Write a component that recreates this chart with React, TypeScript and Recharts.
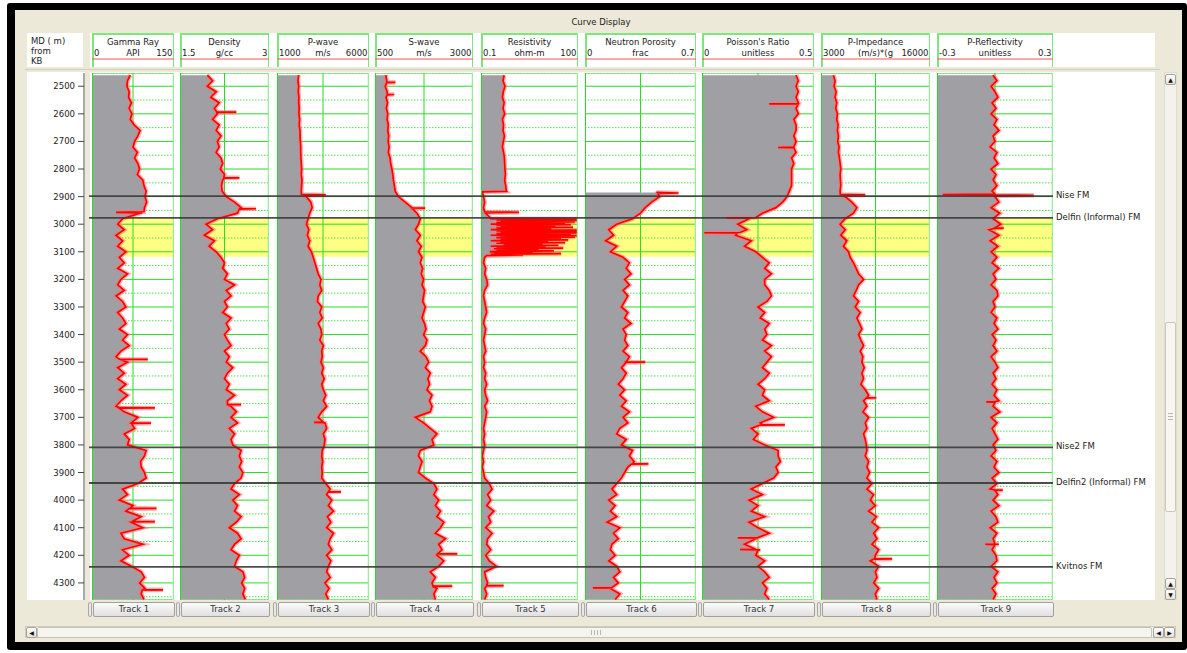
import React from 'react';
import { ComposedChart, Area, XAxis, YAxis, CartesianGrid, ReferenceLine, ReferenceArea } from 'recharts';

// ---------------- data ----------------
const depths = [
  2460, 2480, 2500, 2520, 2540, 2560, 2580, 2600, 2620, 2640,
  2660, 2680, 2700, 2720, 2740, 2760, 2780, 2800, 2820, 2840,
  2860, 2880, 2900, 2920, 2940, 2960, 2980, 3000, 3020, 3040,
  3060, 3080, 3100, 3120, 3140, 3160, 3180, 3200, 3220, 3240,
  3260, 3280, 3300, 3320, 3340, 3360, 3380, 3400, 3420, 3440,
  3460, 3480, 3500, 3520, 3540, 3560, 3580, 3600, 3620, 3640,
  3660, 3680, 3700, 3720, 3740, 3760, 3780, 3800, 3820, 3840,
  3860, 3880, 3900, 3920, 3940, 3960, 3980, 4000, 4020, 4040,
  4060, 4080, 4100, 4120, 4140, 4160, 4180, 4200, 4220, 4240,
  4260, 4280, 4300, 4320, 4340, 4360,
];

const majorDepthTicks = [2500, 2600, 2700, 2800, 2900, 3000, 3100, 3200, 3300, 3400, 3500, 3600, 3700, 3800, 3900, 4000, 4100, 4200, 4300];
const halfDepthTicks = [2550, 2650, 2750, 2850, 2950, 3050, 3150, 3250, 3350, 3450, 3550, 3650, 3750, 3850, 3950, 4050, 4150, 4250, 4350];
const tenMetreTicks = Array.from({ length: 191 }, (_, i) => 2460 + i * 10).filter((d) => d % 100 !== 0);

const gammaRay = [
  70, 65, 64, 68, 67, 72, 68, 73, 70, 77,
  88, 84, 78, 75, 83, 78, 84, 87, 83, 93,
  95, 99, 97, 100, 96, 88, 56, 47, 59, 44,
  56, 47, 62, 50, 59, 47, 65, 53, 47, 59,
  44, 56, 62, 47, 56, 62, 50, 65, 56, 68,
  53, 44, 65, 47, 59, 47, 62, 50, 65, 53,
  44, 59, 84, 72, 78, 59, 68, 65, 99, 96,
  89, 90, 96, 99, 84, 56, 65, 50, 75, 62,
  90, 72, 93, 53, 59, 93, 56, 68, 53, 72,
  90, 96, 87, 97, 90, 95,
];
const gammaRaySpikes = [
  [2955, 95], [2957, 44], [2959, 92],
  [3489, 50], [3490, 102], [3491, 52],
  [3665, 52], [3666, 115], [3667, 50],
  [3720, 74], [3721, 108], [3722, 72],
  [4029, 70], [4030, 118], [4031, 68],
  [4077, 74], [4078, 115], [4079, 76],
  [4324, 94], [4325, 130], [4326, 92],
];

const density = [
  1.96, 2.05, 1.96, 2.11, 2.02, 2.16, 2.08, 2.13, 2.05, 2.16,
  2.11, 2.19, 2.13, 2.16, 2.11, 2.19, 2.22, 2.18, 2.25, 2.22,
  2.2, 2.21, 2.28, 2.42, 2.53, 2.47, 2.13, 1.94, 2.05, 1.91,
  2.08, 1.99, 2.11, 2.19, 2.25, 2.22, 2.3, 2.25, 2.42, 2.28,
  2.36, 2.25, 2.3, 2.22, 2.36, 2.28, 2.33, 2.25, 2.3, 2.36,
  2.25, 2.33, 2.28, 2.39, 2.3, 2.25, 2.33, 2.28, 2.42, 2.3,
  2.36, 2.45, 2.36, 2.47, 2.33, 2.42, 2.36, 2.39, 2.53, 2.5,
  2.54, 2.5, 2.56, 2.53, 2.42, 2.36, 2.5, 2.39, 2.47, 2.42,
  2.53, 2.45, 2.33, 2.47, 2.53, 2.42, 2.36, 2.5, 2.45, 2.42,
  2.56, 2.59, 2.54, 2.59, 2.56, 2.6,
];
const densitySpikes = [
  [2593, 2.12], [2594, 2.45], [2595, 2.12], [2831, 2.24], [2832, 2.5], [2833, 2.24],
  [2943, 2.5], [2944, 2.78], [2945, 2.5], [3653, 2.3], [3654, 2.53], [3655, 2.3],
];

const pWave = [
  2180, 2140, 2180, 2160, 2190, 2180, 2210, 2190, 2230, 2210,
  2250, 2250, 2270, 2290, 2290, 2300, 2320, 2340, 2320, 2360,
  2340, 2320, 2600, 2840, 2910, 2780, 2690, 2600, 2730, 2650,
  2780, 2690, 2870, 2970, 3060, 3150, 3240, 3390, 3330, 3430,
  3240, 3200, 3430, 3330, 3460, 3240, 3390, 3430, 3330, 3520,
  3430, 3460, 3390, 3520, 3430, 3570, 3430, 3520, 3650, 3520,
  3700, 3430, 3240, 3610, 3700, 3520, 3610, 3570, 3460, 3430,
  3480, 3430, 3460, 3430, 3650, 3890, 3700, 3980, 3790, 4070,
  3740, 3930, 3700, 4070, 3890, 3790, 3980, 3700, 3930, 3790,
  3700, 3890, 3610, 3830, 3650, 3790,
];
const pWaveSpikes = [[2892, 2330], [2894, 3650], [2896, 2420], [3717, 3500], [3718, 3020], [3719, 3550], [3969, 3800], [3970, 4480], [3971, 3780]];

const sWave = [
  775, 800, 760, 810, 780, 820, 790, 825, 810, 840,
  825, 850, 835, 860, 840, 885, 900, 930, 955, 970,
  995, 1015, 1100, 1270, 1440, 1570, 1655, 1610, 1530, 1655,
  1570, 1680, 1610, 1700, 1655, 1715, 1680, 1740, 1700, 1765,
  1740, 1715, 1785, 1740, 1700, 1765, 1800, 1740, 1825, 1785,
  1655, 1800, 1870, 1785, 1910, 1850, 1890, 1825, 1955, 1890,
  1955, 1910, 1530, 1740, 1910, 2080, 1955, 2000, 1655, 1610,
  1700, 1655, 1610, 1785, 2000, 2080, 2000, 2125, 2040, 2170,
  2080, 2255, 2170, 2040, 2300, 2125, 2210, 2080, 2255, 2125,
  1910, 2040, 1955, 2080, 2000, 2040,
];
const sWaveSpikes = [
  [2485, 800], [2486, 1020], [2487, 800], [2529, 815], [2530, 990], [2531, 815],
  [2941, 1440], [2942, 1780], [2943, 1450], [4194, 2100], [4195, 2600], [4196, 2090],
  [4311, 1980], [4312, 2470], [4313, 1970],
];

const resistivity = [
  0.52, 0.48, 0.55, 0.49, 0.46, 0.52, 0.48, 0.54, 0.46, 0.5,
  0.48, 0.53, 0.49, 0.46, 0.5, 0.53, 0.54, 0.55, 0.57, 0.54,
  0.58, 0.61, 0.12, 0.13, 0.12, 0.14, 0.2, 0.2, 0.2, 0.2,
  0.2, 0.2, 0.2, 0.13, 0.12, 0.14, 0.13, 0.15, 0.16, 0.13,
  0.12, 0.13, 0.14, 0.15, 0.13, 0.12, 0.14, 0.13, 0.12, 0.13,
  0.14, 0.12, 0.13, 0.12, 0.14, 0.13, 0.15, 0.13, 0.14, 0.16,
  0.13, 0.15, 0.14, 0.13, 0.12, 0.13, 0.12, 0.13, 0.12, 0.11,
  0.12, 0.11, 0.12, 0.13, 0.18, 0.22, 0.16, 0.2, 0.15, 0.25,
  0.17, 0.2, 0.14, 0.22, 0.16, 0.15, 0.2, 0.14, 0.18, 0.3,
  0.13, 0.14, 0.16, 0.13, 0.15, 0.13,
];
const resistivitySpikes = [
  [2881, 0.62], [2883, 0.11], [2955, 0.13], [2957, 1.5], [2959, 0.13],
  [2979, 0.2], [2981.5, 100], [2984, 0.3], [2986.5, 100], [2989, 0.4], [2991.5, 80], [2994, 0.3], [2996.5, 40], [2999, 0.5],
  [3001.5, 60], [3004, 0.3], [3006.5, 20], [3009, 0.4], [3011.5, 70], [3014, 0.3], [3016.5, 15], [3019, 0.5],
  [3021.5, 100], [3024, 0.3], [3026.5, 100], [3029, 0.4], [3031.5, 100], [3034, 0.3], [3036.5, 60], [3039, 0.5],
  [3041.5, 100], [3044, 0.4], [3046.5, 80], [3049, 0.3], [3051.5, 30], [3054, 0.4], [3056.5, 50], [3059, 0.3],
  [3061.5, 12], [3064, 0.4], [3066.5, 40], [3069, 0.3], [3071.5, 8], [3074, 0.5], [3076.5, 25], [3079, 0.3],
  [3081.5, 10], [3084, 0.3], [3086.5, 35], [3089, 0.25], [3091.5, 6], [3094, 0.3], [3096.5, 18], [3099, 0.2],
  [3101.5, 4], [3104, 0.25], [3106.5, 30], [3109, 0.2], [3111.5, 2], [3114, 0.15],
  [4309, 0.15], [4310, 0.5], [4311, 0.15],
];

const neutron = [
  null, null, null, null, null, null, null, null, null, null,
  null, null, null, null, null, null, null, null, null, null,
  null, null, 0.47, 0.42, 0.38, 0.35, 0.3, 0.2, 0.15, 0.18,
  0.13, 0.2, 0.16, 0.24, 0.28, 0.26, 0.29, 0.25, 0.28, 0.24,
  0.27, 0.25, 0.23, 0.27, 0.25, 0.29, 0.24, 0.26, 0.25, 0.27,
  0.24, 0.28, 0.25, 0.23, 0.26, 0.24, 0.21, 0.25, 0.22, 0.26,
  0.23, 0.28, 0.24, 0.27, 0.22, 0.2, 0.26, 0.23, 0.3, 0.28,
  0.31, 0.27, 0.25, 0.23, 0.2, 0.17, 0.2, 0.15, 0.19, 0.16,
  0.2, 0.14, 0.22, 0.18, 0.21, 0.17, 0.16, 0.19, 0.15, 0.2,
  0.22, 0.18, 0.21, 0.16, 0.22, 0.19,
];
const neutronTop = [
  [2885, 0.45], [2887, 0.59], [2889, 0.46],
  [3499, 0.26], [3500, 0.38], [3501, 0.26],
  [3868, 0.3], [3869, 0.4], [3870, 0.29],
  [4317, 0.17], [4318, 0.05], [4319, 0.17],
];

const poisson = [
  0.42, 0.43, 0.42, 0.43, 0.42, 0.43, 0.42, 0.43, 0.41, 0.42,
  0.42, 0.41, 0.42, 0.41, 0.42, 0.40, 0.41, 0.40, 0.40, 0.40,
  0.40, 0.39, 0.38, 0.36, 0.33, 0.27, 0.21, 0.16, 0.2, 0.15,
  0.22, 0.19, 0.24, 0.27, 0.3, 0.28, 0.31, 0.28, 0.28, 0.3,
  0.31, 0.29, 0.25, 0.28, 0.26, 0.3, 0.28, 0.29, 0.27, 0.31,
  0.28, 0.31, 0.29, 0.27, 0.3, 0.28, 0.25, 0.28, 0.27, 0.3,
  0.24, 0.27, 0.32, 0.26, 0.22, 0.25, 0.23, 0.28, 0.34, 0.34,
  0.35, 0.33, 0.34, 0.32, 0.27, 0.22, 0.27, 0.21, 0.25, 0.22,
  0.28, 0.21, 0.25, 0.3, 0.24, 0.19, 0.26, 0.24, 0.28, 0.25,
  0.28, 0.3, 0.27, 0.29, 0.28, 0.3,
];
const poissonSpikes = [
  [2563, 0.43], [2564, 0.3], [2565, 0.43], [2721, 0.41], [2722, 0.34], [2723, 0.41],
  [2976, 0.24], [2977, 0.11], [2978, 0.22], [3030, 0.17], [3031, 0.01], [3032, 0.16],
  [3726, 0.27], [3727, 0.37], [3728, 0.26], [4136, 0.25], [4137, 0.16], [4138, 0.25],
  [4178, 0.24], [4179, 0.17], [4181, 0.25],
];

const pImpedance = [
  4480, 4680, 4560, 4800, 4680, 4880, 4760, 4960, 4880, 5040,
  4960, 5080, 5000, 5160, 5080, 5200, 5280, 5360, 5280, 5320,
  5360, 5280, 5880, 6680, 7280, 6880, 5880, 5280, 5880, 5360,
  6080, 5680, 6280, 6480, 6880, 7200, 7480, 8080, 7480, 7200,
  6880, 7480, 7080, 7680, 7280, 7600, 7880, 7480, 7760, 8080,
  7680, 8000, 7880, 8160, 7880, 8080, 7760, 8280, 8680, 8080,
  8480, 8000, 8680, 8280, 8480, 8080, 8280, 8400, 8480, 8280,
  8680, 8480, 8800, 8480, 9080, 8480, 9280, 8880, 9480, 8680,
  9600, 9080, 9880, 9280, 9680, 9080, 9880, 9480, 8880, 9880,
  9480, 9680, 9280, 9880, 9480, 9680,
];
const pImpedanceSpikes = [[2892, 5300], [2894, 8280], [2896, 5500], [3628, 8500], [3629, 9600], [3630, 8400], [4212, 9400], [4213, 11480], [4214, 9300]];

const pReflectivity = [
  -0.01, 0.01, -0.02, 0.0, 0.015, -0.015, 0.005, -0.02, 0.01, -0.005,
  0.02, -0.01, 0.0, -0.025, 0.01, -0.005, 0.015, -0.02, 0.005, -0.01,
  0.01, -0.015, 0.0, 0.02, -0.02, 0.025, -0.01, 0.03, -0.03, 0.02,
  -0.025, 0.015, -0.02, 0.01, -0.015, 0.02, -0.01, 0.005, -0.02, 0.01,
  0.015, -0.01, 0.0, -0.02, 0.01, -0.005, 0.015, -0.015, 0.005, -0.01,
  0.01, -0.02, 0.0, 0.015, -0.01, 0.005, -0.015, 0.01, -0.005, 0.02,
  -0.01, 0.025, -0.02, 0.01, -0.015, 0.0, 0.015, -0.01, 0.005, -0.02,
  0.01, -0.005, 0.02, -0.015, 0.01, -0.025, 0.015, -0.01, 0.02, -0.02,
  0.005, 0.015, -0.025, 0.01, -0.01, 0.02, -0.015, 0.005, 0.01, -0.02,
  0.015, -0.005, 0.01, -0.015, 0.005, -0.01,
];
const pReflectivitySpikes = [
  [2891, 0.0], [2892.5, -0.27], [2894, 0.0], [2895.5, 0.2], [2897, 0.0],
  [3013, 0.0], [3014, 0.045], [3015, 0.0], [3643, 0.0], [3644, -0.045], [3645, 0.0],
  [3963, 0.0], [3964, 0.04], [3965, 0.0], [4159, 0.0], [4160, -0.05], [4161, 0.0],
];

const trackTitles = ['Gamma Ray', 'Density', 'P-wave', 'S-wave', 'Resistivity', 'Neutron Porosity', "Poisson's Ratio", 'P-Impedance', 'P-Reflectivity'];
const trackUnits = ['API', 'g/cc', 'm/s', 'm/s', 'ohm-m', 'frac', 'unitless', '(m/s)*(g', 'unitless'];
const scaleMin = [0, 1.5, 1000, 500, 0.1, 0, 0, 3000, -0.3];
const scaleMax = [150, 3, 6000, 3000, 100, 0.7, 0.5, 16000, 0.3];
const minLabels = ['0', '1.5', '1000', '500', '0.1', '0', '0', '3000', '-0.3'];
const maxLabels = ['150', '3', '6000', '3000', '100', '0.7', '0.5', '16000', '0.3'];
const logScale = [false, false, false, false, true, false, false, false, false];
const curves = [gammaRay, density, pWave, sWave, resistivity, neutron, poisson, pImpedance, pReflectivity];
const curveExtras = [gammaRaySpikes, densitySpikes, pWaveSpikes, sWaveSpikes, resistivitySpikes, neutronTop, poissonSpikes, pImpedanceSpikes, pReflectivitySpikes];

const formationNames = ['Nise FM', 'Delfin (Informal) FM', 'Nise2 FM', 'Delfin2 (Informal) FM', 'Kvitnos FM'];
const formationDepths = [2898, 2977, 3809, 3938, 4242];
const zoneTop = 2977;
const zoneBase = 3118;

// ---------------- layout ----------------
const DMIN = 2452;
const DMAX = 4362;
const PLOT_TOP = 73;
const PLOT_H = 527;
const trackX = [92, 180, 277, 375, 481, 585, 702, 821, 937];
const trackW = [82, 89, 92, 98, 97, 111, 112, 109, 116];
const FONT = "'DejaVu Sans', sans-serif";
const FS = 8.5;
const BEIGE = '#ece9d8';
const GRAY = '#a09fa4';
const M0 = { top: 0, right: 0, bottom: 0, left: 0 };

type Row = { depth: number; v: number | null };
const buildRows = (vals: (number | null)[], extras: number[][]): Row[] =>
  [
    ...depths.map((d, i) => ({ depth: d, v: vals[i] })),
    ...extras.map(([d, v]) => ({ depth: d, v })),
  ].sort((a, b) => a.depth - b.depth);

// rows for overlay charts: depth plus a dummy position on a 0..1 horizontal axis
const overlayRows = depths.map((d, i) => ({ depth: d, pos: i % 2 }));

function Track({ i }: { i: number }) {
  const w = trackW[i];
  const min = scaleMin[i];
  const max = scaleMax[i];
  const log = logScale[i];
  const mid = log ? Math.sqrt(min * max) : (min + max) / 2;
  const rows = buildRows(curves[i], curveExtras[i]);
  const xProps: any = {
    type: 'number',
    domain: [min, max],
    scale: log ? 'log' : 'linear',
    allowDataOverflow: true,
    hide: true,
    ticks: [mid],
  };
  const yProps: any = { type: 'number', dataKey: 'depth', domain: [DMIN, DMAX], allowDataOverflow: true, hide: true };
  const layer: React.CSSProperties = { position: 'absolute', left: 0, top: 0 };
  return (
    <div style={{ position: 'absolute', left: trackX[i], top: PLOT_TOP, width: w, height: PLOT_H }}>
      <div style={layer}>
        <ComposedChart layout="vertical" width={w} height={PLOT_H} data={rows} margin={M0}>
          <XAxis {...xProps} />
          <YAxis {...yProps} />
          <ReferenceArea y1={zoneTop} y2={zoneBase} fill="#ffff84" fillOpacity={1} stroke="none" />
        </ComposedChart>
      </div>
      <div style={layer}>
        <ComposedChart layout="vertical" width={w} height={PLOT_H} data={rows} margin={M0}>
          <XAxis {...xProps} />
          <YAxis {...yProps} ticks={majorDepthTicks} />
          <YAxis {...yProps} yAxisId="half" ticks={halfDepthTicks} />
          <CartesianGrid stroke="#28dc28" strokeWidth={1} />
          <CartesianGrid yAxisId="half" vertical={false} stroke="#4fe04f" strokeDasharray="1.5 1.5" />
          <Area
            dataKey="v"
            type="linear"
            baseValue="dataMin"
            fill={GRAY}
            fillOpacity={1}
            stroke="#ff7070"
            strokeOpacity={0.55}
            strokeWidth={4.5}
            connectNulls={false}
            dot={false}
            activeDot={false}
            isAnimationActive={false}
          />
          <Area
            dataKey="v"
            type="linear"
            baseValue="dataMin"
            fill="none"
            fillOpacity={0}
            stroke="#ff0000"
            strokeWidth={1.7}
            connectNulls={false}
            dot={false}
            activeDot={false}
            isAnimationActive={false}
          />
        </ComposedChart>
      </div>
      <div style={layer}>
        <ComposedChart layout="vertical" width={w} height={PLOT_H} data={rows} margin={M0}>
          <XAxis {...xProps} />
          <YAxis {...yProps} />
          <ReferenceLine x={min} stroke="#22e022" strokeWidth={2} />
          <ReferenceLine x={max} stroke="#98ec98" strokeWidth={2.5} />
        </ComposedChart>
      </div>
    </div>
  );
}

function TrackHeader({ i }: { i: number }) {
  const w = trackW[i];
  const min = scaleMin[i];
  const max = scaleMax[i];
  const log = logScale[i];
  const mid = log ? Math.sqrt(min * max) : (min + max) / 2;
  const green = '#7ce77c';
  const txt: React.CSSProperties = { position: 'absolute', top: 15, fontSize: FS, lineHeight: '10px', whiteSpace: 'nowrap', color: '#222' };
  return (
    <div style={{ position: 'absolute', left: trackX[i], top: 33, width: w, height: 34 }}>
      <div style={{ position: 'absolute', left: 0, top: 0, width: w, height: 1.5, background: green }} />
      <div style={{ position: 'absolute', left: 0, top: 0, width: 1.5, height: 34, background: green }} />
      <div style={{ position: 'absolute', right: 0, top: 0, width: 1.5, height: 34, background: green }} />
      <div style={{ ...txt, top: 4, left: 0, width: w, textAlign: 'center' }}>{trackTitles[i]}</div>
      <div style={{ ...txt, left: 2 }}>{minLabels[i]}</div>
      <div style={{ ...txt, left: 0, width: w, textAlign: 'center' }}>{trackUnits[i]}</div>
      <div style={{ ...txt, right: 1.5 }}>{maxLabels[i]}</div>
      <div style={{ position: 'absolute', left: 0, top: 25 }}>
        <ComposedChart width={w} height={8} data={[{ v: min }, { v: max }]} margin={M0}>
          <XAxis
            type="number"
            dataKey="v"
            domain={[min, max]}
            scale={log ? 'log' : 'linear'}
            allowDataOverflow
            ticks={[min, mid, max]}
            interval={0}
            orientation="bottom"
            height={7}
            tick={false}
            tickSize={4}
            axisLine={{ stroke: '#ff5050' }}
            tickLine={{ stroke: '#ff5050' }}
          />
          <YAxis hide />
        </ComposedChart>
      </div>
    </div>
  );
}

function SmallButton({ left, top, w, h, glyph }: { left: number; top: number; w: number; h: number; glyph: string }) {
  return (
    <div
      style={{
        position: 'absolute', left, top, width: w, height: h, boxSizing: 'border-box',
        border: '1px solid #a5a39a', borderRadius: 2, background: 'linear-gradient(#ffffff,#e4e2da)',
        fontSize: 6, lineHeight: `${h - 2}px`, textAlign: 'center', color: '#111',
      }}
    >
      {glyph}
    </div>
  );
}

function OverlayChart({ width, children }: { width: number; children: React.ReactNode }) {
  return (
    <ComposedChart layout="vertical" width={width} height={PLOT_H} data={overlayRows} margin={M0}>
      <XAxis type="number" dataKey="pos" domain={[0, 1]} allowDataOverflow hide />
      <YAxis type="number" dataKey="depth" domain={[DMIN, DMAX]} allowDataOverflow hide />
      <Area dataKey="pos" stroke="none" fill="none" fillOpacity={0} dot={false} activeDot={false} isAnimationActive={false} />
      {children}
    </ComposedChart>
  );
}

export default function App() {
  const abs = (l: number, t: number, w: number, h: number, bg: string): React.CSSProperties => ({ position: 'absolute', left: l, top: t, width: w, height: h, background: bg });
  return (
    <div style={{ position: 'absolute', left: 0, top: 0, width: 1187, height: 653, background: '#fff', fontFamily: FONT, overflow: 'hidden' }}>
      <div style={{ ...abs(7, 3, 1180, 647, '#000'), borderRadius: 3 }} />
      <div style={abs(15, 10, 1167, 632, BEIGE)} />
      <div style={{ position: 'absolute', left: 0, top: 17, width: 1202, textAlign: 'center', fontSize: FS, lineHeight: '11px', color: '#222' }}>Curve Display</div>

      {/* header row */}
      <div style={abs(27, 33, 56, 34, '#fff')} />
      <div style={{ position: 'absolute', left: 31, top: 36, fontSize: FS, lineHeight: '10px', color: '#222' }}>
        MD ( m)<br />from<br />KB
      </div>
      <div style={abs(90, 33, 1065, 34, '#fff')} />
      <div style={abs(25, 69, 1135, 1, '#d2cfbf')} />

      {/* plot panels */}
      <div style={abs(27, 72, 58, 528, '#fff')} />
      <div style={abs(90, 72, 1065, 528, '#fff')} />

      {/* depth axis */}
      <div style={{ position: 'absolute', left: 27, top: PLOT_TOP }}>
        <ComposedChart layout="vertical" width={60} height={PLOT_H} data={overlayRows} margin={M0}>
          <XAxis type="number" dataKey="pos" domain={[0, 1]} hide />
          <YAxis
            type="number"
            dataKey="depth"
            domain={[DMIN, DMAX]}
            allowDataOverflow
            ticks={majorDepthTicks}
            interval={0}
            width={57}
            tickSize={6}
            tickMargin={3}
            tick={{ fontSize: FS, fill: '#222', fontFamily: FONT }}
            axisLine={{ stroke: '#555' }}
            tickLine={{ stroke: '#444' }}
          />
        </ComposedChart>
      </div>
      <div style={{ position: 'absolute', left: 27, top: PLOT_TOP }}>
        <ComposedChart layout="vertical" width={60} height={PLOT_H} data={overlayRows} margin={M0}>
          <XAxis type="number" dataKey="pos" domain={[0, 1]} hide />
          <YAxis
            type="number"
            dataKey="depth"
            domain={[DMIN, DMAX]}
            allowDataOverflow
            ticks={tenMetreTicks}
            interval={0}
            width={57}
            tickSize={3}
            tick={false}
            axisLine={false}
            tickLine={{ stroke: '#555' }}
          />
        </ComposedChart>
      </div>

      {trackX.map((_, i) => (
        <Track key={`t${i}`} i={i} />
      ))}

      {/* formation tops */}
      <div style={{ position: 'absolute', left: 89, top: PLOT_TOP }}>
        <OverlayChart width={964}>
          {formationDepths.map((d, i) => (
            <ReferenceLine key={`f${i}`} y={d} stroke="#3a3a3a" strokeWidth={1.8} strokeOpacity={0.9} />
          ))}
        </OverlayChart>
      </div>
      <div style={{ position: 'absolute', left: 1052, top: PLOT_TOP }}>
        <OverlayChart width={103}>
          {formationDepths.map((d, i) => (
            <ReferenceLine
              key={`fl${i}`}
              y={d}
              stroke="none"
              label={{ value: formationNames[i], position: 'insideLeft', offset: 4, dy: -1, fontSize: FS, fill: '#222', fontFamily: FONT }}
            />
          ))}
        </OverlayChart>
      </div>

      {trackX.map((_, i) => (
        <TrackHeader key={`h${i}`} i={i} />
      ))}

      {/* track buttons */}
      {trackX.map((x, i) => (
        <React.Fragment key={`b${i}`}>
          <div style={{ position: 'absolute', left: x - 4, top: 602, width: 4, height: 15, boxSizing: 'border-box', border: '1px solid #a8a8a8', borderRadius: 2, background: '#e8e8e8' }} />
          <div
            style={{
              position: 'absolute', left: x + 1, top: 602, width: trackW[i], height: 15, boxSizing: 'border-box',
              border: '1px solid #a0a0a0', borderRadius: 2, background: 'linear-gradient(#fbfbfb,#e0e0e0)',
              fontSize: FS, lineHeight: '13px', textAlign: 'center', color: '#333',
            }}
          >
            Track {i + 1}
          </div>
        </React.Fragment>
      ))}

      {/* vertical scrollbar */}
      <div style={{ ...abs(1164, 72, 13, 528, '#f3f2ec'), boxSizing: 'border-box', border: '1px solid #dedbd0' }} />
      <SmallButton left={1165} top={74} w={11} h={11} glyph="▲" />
      <div style={{ ...abs(1165, 322, 11, 190, '#f7f6f1'), boxSizing: 'border-box', border: '1px solid #c9c6ba', borderRadius: 2 }} />
      <div style={abs(1168, 413, 5, 1, '#b9b6aa')} />
      <div style={abs(1168, 416, 5, 1, '#b9b6aa')} />
      <div style={abs(1168, 419, 5, 1, '#b9b6aa')} />
      <SmallButton left={1165} top={578} w={11} h={11} glyph="▲" />
      <SmallButton left={1165} top={589} w={11} h={11} glyph="▼" />

      {/* horizontal scrollbar */}
      <div style={{ ...abs(25, 626, 1151, 12, '#f3f2ec'), boxSizing: 'border-box', border: '1px solid #cfcbbd' }} />
      <SmallButton left={26} top={627} w={11} h={11} glyph="◀" />
      <div style={{ ...abs(37, 627, 1115, 11, '#f5f4ef'), boxSizing: 'border-box', border: '1px solid #c6c3b7', borderRadius: 2 }} />
      <div style={abs(591, 630, 1, 5, '#b9b6aa')} />
      <div style={abs(594, 630, 1, 5, '#b9b6aa')} />
      <div style={abs(597, 630, 1, 5, '#b9b6aa')} />
      <div style={abs(600, 630, 1, 5, '#b9b6aa')} />
      <SmallButton left={1153} top={627} w={11} h={11} glyph="◀" />
      <SmallButton left={1164} top={627} w={11} h={11} glyph="▶" />
    </div>
  );
}
